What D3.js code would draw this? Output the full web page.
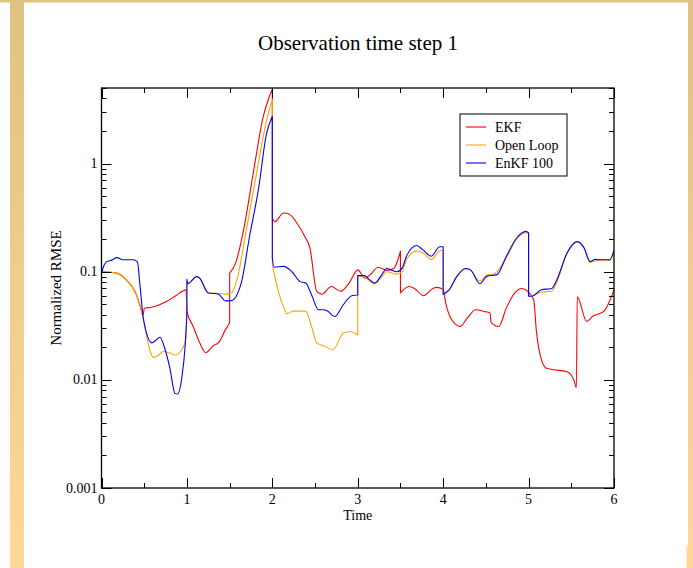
<html>
<head>
<meta charset='utf-8' />
<title>Observation time step 1</title>
<script src="https://cdn.jsdelivr.net/npm/d3@7"></script>
<style>
body { margin: 0; background: #ffffff; }
text { font-family: "Liberation Serif", "Times New Roman", serif; fill: #000; }
</style>
</head>
<body>
<script>

// ---- data (repeated time = vertical jump) ----
var series = ["EKF", "Open Loop", "EnKF 100"];
var colors = ["#ff0000", "#ffa500", "#0000ff"];

var ekfT = [0,0.18,0.29,0.41,0.46,0.49,0.5,0.53,0.63,0.76,0.87,0.99,1.0,1.075,1.15,1.22,1.3,1.38,1.45,1.5,1.5,1.57,1.66,1.78,1.89,2.0,2.0,2.03,2.13,2.2,2.3,2.38,2.44,2.52,2.58,2.69,2.8,2.9,3.0,3.085,3.14,3.24,3.34,3.42,3.47,3.5,3.5,3.6,3.66,3.77,3.88,3.92,4.0,4.03,4.1,4.2,4.28,4.38,4.48,4.55,4.56,4.65,4.74,4.84,4.92,4.99,5.06,5.09,5.14,5.21,5.33,5.45,5.53,5.56,5.57,5.68,5.75,5.88,6.0];
var ekfV = [0.1,0.097,0.084,0.061,0.046,0.04,0.046,0.0463,0.048,0.053,0.06,0.068,0.0432,0.031,0.022,0.0178,0.0204,0.0226,0.029,0.0336,0.097,0.12,0.236,0.85,2.65,4.9,0.314,0.29,0.349,0.34,0.272,0.212,0.166,0.0658,0.062,0.073,0.066,0.0786,0.104,0.087,0.093,0.11,0.103,0.107,0.129,0.155,0.0636,0.073,0.0705,0.06,0.07,0.0716,0.0687,0.0513,0.036,0.0312,0.037,0.0445,0.043,0.0415,0.034,0.0312,0.0463,0.064,0.07,0.0658,0.055,0.029,0.0164,0.0128,0.0123,0.0119,0.01,0.0085,0.0585,0.0347,0.0387,0.043,0.068];

var openT = [0,0.18,0.29,0.41,0.45,0.51,0.57,0.61,0.67,0.72,0.8,0.86,0.94,0.99,1.0,1.01,1.115,1.15,1.25,1.37,1.45,1.52,1.58,1.7,1.82,1.93,2.0,2.0,2.05,2.13,2.17,2.25,2.39,2.46,2.52,2.6,2.71,2.83,2.91,3.0,3.0,3.08,3.14,3.2,3.28,3.34,3.46,3.52,3.57,3.69,3.76,3.86,3.96,4.0,4.0,4.07,4.16,4.26,4.32,4.43,4.51,4.6,4.74,4.86,4.97,5.0,5.0,5.04,5.15,5.27,5.33,5.45,5.57,5.65,5.72,5.83,5.95,6.0];
var openV = [0.1,0.097,0.084,0.061,0.0495,0.03,0.0183,0.0161,0.017,0.0183,0.0177,0.017,0.019,0.0243,0.082,0.078,0.09,0.087,0.064,0.063,0.062,0.0636,0.081,0.254,0.85,2.46,3.9,0.116,0.076,0.0476,0.041,0.0432,0.0432,0.031,0.0219,0.0207,0.019,0.027,0.028,0.026,0.092,0.09,0.082,0.077,0.09,0.1,0.095,0.1,0.13,0.155,0.15,0.13,0.156,0.158,0.062,0.068,0.09,0.106,0.103,0.082,0.093,0.096,0.135,0.2,0.23,0.225,0.0614,0.06,0.065,0.066,0.08,0.147,0.19,0.165,0.122,0.128,0.128,0.156];

var enkfT = [0,0.03,0.06,0.12,0.18,0.25,0.37,0.42,0.45,0.49,0.59,0.63,0.685,0.74,0.8,0.86,0.89,0.94,0.98,1.0,1.0,1.01,1.115,1.15,1.25,1.37,1.45,1.52,1.64,1.73,1.84,1.93,2.0,2.0,2.02,2.13,2.23,2.325,2.39,2.46,2.54,2.6,2.65,2.73,2.83,2.93,3.0,3.0,3.08,3.14,3.2,3.28,3.34,3.46,3.52,3.57,3.69,3.76,3.86,3.96,4.0,4.0,4.07,4.16,4.26,4.32,4.43,4.51,4.63,4.74,4.86,4.97,5.0,5.0,5.04,5.15,5.27,5.33,5.45,5.57,5.65,5.72,5.78,5.83,5.95,6.0];
var enkfV = [0.097,0.115,0.124,0.128,0.135,0.129,0.129,0.124,0.076,0.037,0.022,0.023,0.0248,0.0196,0.0129,0.0075,0.0074,0.0104,0.021,0.04,0.085,0.078,0.09,0.087,0.0636,0.062,0.0538,0.054,0.081,0.205,0.596,1.86,2.74,0.134,0.11,0.112,0.1,0.081,0.0786,0.061,0.0445,0.0445,0.043,0.0385,0.0495,0.06,0.061,0.092,0.092,0.084,0.0786,0.0937,0.107,0.1,0.108,0.139,0.175,0.16,0.139,0.17,0.17,0.062,0.068,0.0906,0.107,0.104,0.0775,0.0906,0.094,0.139,0.205,0.236,0.228,0.0594,0.0594,0.068,0.07,0.084,0.149,0.19,0.166,0.124,0.13,0.129,0.129,0.158];

var xTicks = [0,1,2,3,4,5,6];
var yTicks = [0.001,0.01,0.1,1];

// ---- layout ----
var W = 693, H = 568;
var plotL = 101.5, plotR = 614, plotT = 88, plotB = 488;

var svg = d3.select("body").append("svg")
	.attr("width", W)
	.attr("height", H);

// slide decoration
var grad = svg.append("defs").append("linearGradient")
	.attr("id","deco").attr("x1",0).attr("y1",0).attr("x2",0).attr("y2",1);
grad.append("stop").attr("offset","0%").attr("stop-color","#dfc282");
grad.append("stop").attr("offset","100%").attr("stop-color","#fed898");

svg.append("rect").attr("x",0).attr("y",0).attr("width",W).attr("height",2.5).attr("fill","#dfc282");
svg.append("rect").attr("x",10).attr("y",0).attr("width",14).attr("height",H).attr("fill","url(#deco)");
svg.append("rect").attr("x",688).attr("y",0).attr("width",5).attr("height",H).attr("fill","url(#deco)");
svg.append("rect").attr("x",686.5).attr("y",545).attr("width",7).attr("height",H-545).attr("fill","#fed898");

var xScale = d3.scaleLinear().domain([0,6]).range([plotL,plotR]);
var yScale = d3.scaleLog().domain([0.001,5]).range([plotB,plotT]);

// ---- curves ----
var line = d3.line()
	.x(function(d) { return xScale(d[0]); })
	.y(function(d) { return yScale(d[1]); })
	.curve(d3.curveMonotoneX);

// split at repeated times so jumps become straight vertical segments
var pathFor = function(ts, vs) {
	var runs = [], run = [];
	for (var i = 0; i < ts.length; i++) {
		if (run.length && ts[i] === run[run.length-1][0]) { runs.push(run); run = []; }
		run.push([ts[i], vs[i]]);
	}
	runs.push(run);
	return runs.map(function(r, k) {
		var d = r.length > 1 ? line(r) : "M" + xScale(r[0][0]) + "," + yScale(r[0][1]);
		return k ? "L" + d.slice(1) : d;
	}).join("");
}

var data = [[ekfT, ekfV], [openT, openV], [enkfT, enkfV]];

var plot = svg.append("g");
plot.append("clipPath").attr("id","clip").append("rect")
	.attr("x",plotL).attr("y",plotT).attr("width",plotR-plotL).attr("height",plotB-plotT);

// EKF underneath, EnKF on top, as in the reference
[0,1,2].forEach(function(i) {
	plot.append("path")
		.attr("clip-path","url(#clip)")
		.attr("fill","none")
		.attr("stroke",colors[i])
		.attr("stroke-width",1.1)
		.attr("stroke-linejoin","round")
		.attr("d", pathFor(data[i][0], data[i][1]));
});

// ---- frame and ticks (inward, on all four sides) ----
var xMinor = d3.range(0, 6.01, 0.5);
var yMinor = [];
[0.001,0.01,0.1,1].forEach(function(dec) {
	for (var m = 1; m < 10; m++) if (dec*m <= 5) yMinor.push(dec*m);
});

var ticks = svg.append("g").attr("stroke","#000").attr("stroke-width",1);
xMinor.forEach(function(t) {
	var len = (Math.abs(t - Math.round(t)) < 1e-6) ? 10 : 5;
	var x = Math.round(xScale(t)) + 0.5;
	ticks.append("line").attr("x1",x).attr("x2",x).attr("y1",plotB).attr("y2",plotB-len);
	ticks.append("line").attr("x1",x).attr("x2",x).attr("y1",plotT).attr("y2",plotT+len);
});
yMinor.forEach(function(v) {
	var major = yTicks.some(function(t) { return Math.abs(t - v) < 1e-9; });
	var len = major ? 10 : 5;
	var y = Math.round(yScale(v)) + 0.5;
	ticks.append("line").attr("x1",plotL).attr("x2",plotL+len).attr("y1",y).attr("y2",y);
	ticks.append("line").attr("x1",plotR).attr("x2",plotR-len).attr("y1",y).attr("y2",y);
});

svg.append("rect")
	.attr("x",plotL).attr("y",plotT)
	.attr("width",plotR-plotL).attr("height",plotB-plotT)
	.attr("fill","none").attr("stroke","#000").attr("stroke-width",1.3);

// tick labels
svg.selectAll(".xl").data(xTicks).enter().append("text")
	.attr("x", function(d) { return xScale(d); })
	.attr("y", plotB + 16)
	.attr("text-anchor","middle")
	.attr("font-size","14px")
	.text(function(d) { return d; });

svg.selectAll(".yl").data(yTicks).enter().append("text")
	.attr("x", plotL - 4)
	.attr("y", function(d) { return yScale(d) + 4.5; })
	.attr("text-anchor","end")
	.attr("font-size","14px")
	.text(function(d) { return d; });

// axis titles
svg.append("text")
	.attr("x", (plotL+plotR)/2)
	.attr("y", 520)
	.attr("text-anchor","middle")
	.attr("font-size","14px")
	.text("Time");

svg.append("text")
	.attr("transform","translate(61," + ((plotT+plotB)/2) + ") rotate(-90)")
	.attr("text-anchor","middle")
	.attr("font-size","15px")
	.text("Normalized RMSE");

svg.append("text")
	.attr("x", 358)
	.attr("y", 50)
	.attr("text-anchor","middle")
	.attr("font-size","21px")
	.text("Observation time step 1");

// ---- legend ----
var lg = svg.append("g").attr("transform","translate(460,114)");
lg.append("rect")
	.attr("width",107).attr("height",62)
	.attr("fill","#fff").attr("stroke","#000").attr("stroke-width",1);
series.forEach(function(s, i) {
	var y = 13 + i*18;
	lg.append("line").attr("x1",6).attr("x2",26).attr("y1",y).attr("y2",y)
		.attr("stroke",colors[i]).attr("stroke-width",1.1);
	lg.append("text").attr("x",35).attr("y",y+5).attr("font-size","14px").text(s);
});

</script>
</body>
</html>
